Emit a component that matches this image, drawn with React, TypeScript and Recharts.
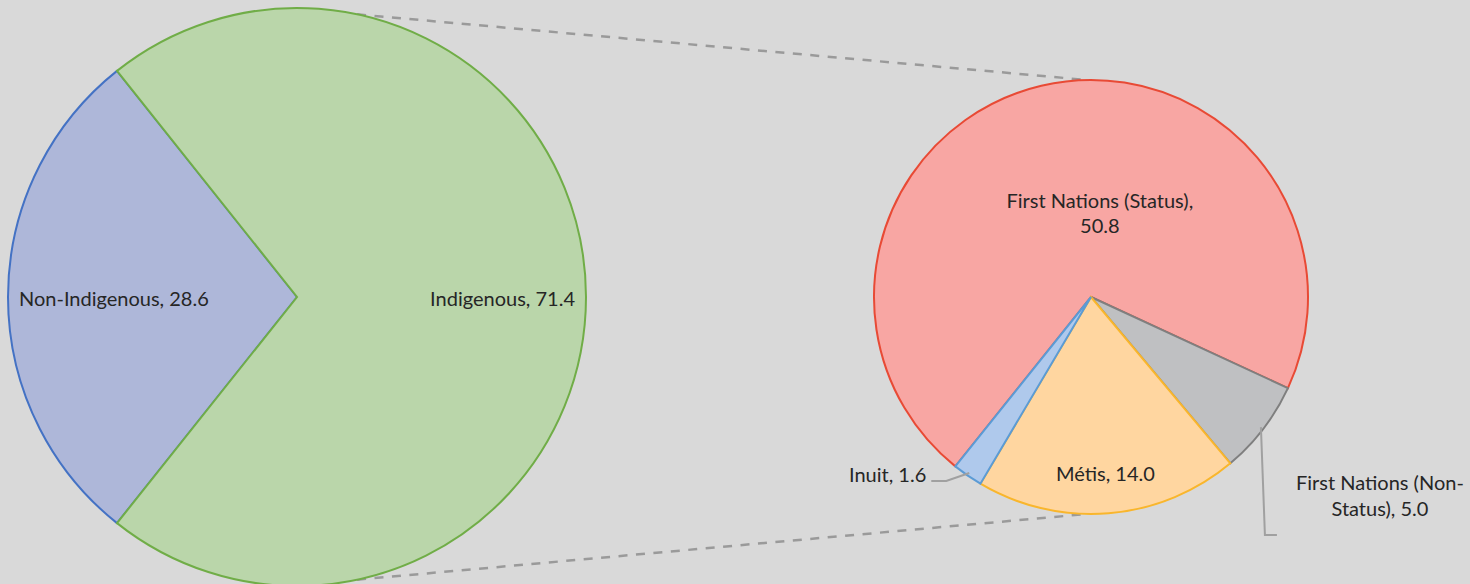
import React from 'react';
import { PieChart, Pie, Cell } from 'recharts';

// ---- data ----
const mainCategories = ['Non-Indigenous', 'Indigenous'];
const mainValues = [28.6, 71.4];
const subCategories = ['First Nations (Status)', 'First Nations (Non-Status)', 'Métis', 'Inuit'];
const subValues = [50.8, 5.0, 14.0, 1.6];

// ---- styles ----
const mainFills = ['#aeb7d9', '#bad6aa'];
const mainStrokes = ['#4472c4', '#70ad47'];
const subFills = ['#f8a6a3', '#bfc0c2', '#ffd6a0', '#afc9ec'];
const subStrokes = ['#e84a35', '#7f7f7f', '#f9b62c', '#5b9bd5'];

const W = 1470;
const H = 584;
const FONT = 'Lato, "Open Sans", sans-serif';
const FS = 20;
const TXT = '#262626';
const LEADER = '#a0a0a0';

const MAIN = { cx: 297, cy: 297, r: 289 };
const SUB = { cx: 1091, cy: 297, r: 217 };

const RAD = Math.PI / 180;
const polar = (cx: number, cy: number, r: number, a: number) => ({
  x: cx + r * Math.cos(-a * RAD),
  y: cy + r * Math.sin(-a * RAD),
});

const mainData = mainCategories.map((name, i) => ({ name, value: mainValues[i] }));
const subData = subCategories.map((name, i) => ({ name, value: subValues[i] }));

const mainTotal = mainValues.reduce((a, b) => a + b, 0);
const mainFirstSpan = (mainValues[0] / mainTotal) * 360;
const mainStart = 180 - mainFirstSpan / 2;

const renderMainLabel = (p: any) => {
  const { cx, cy, midAngle, outerRadius, name, value } = p;
  const pt = polar(cx, cy, outerRadius - 11, midAngle);
  const anchor = Math.cos(midAngle * RAD) >= 0 ? 'end' : 'start';
  return (
    <text x={pt.x} y={pt.y + 9} textAnchor={anchor} fontFamily={FONT} fontSize={FS} fill={TXT}>
      {`${name}, ${Number(value).toFixed(1)}`}
    </text>
  );
};

const splitAfter = (s: string, token: string) => {
  const i = s.indexOf(token);
  if (i < 0) return [s];
  return [s.slice(0, i + token.length).trim(), s.slice(i + token.length).trim()];
};

const renderSubLabel = (p: any) => {
  const { cx, cy, midAngle, outerRadius, name, value, index } = p;
  const full = `${name}, ${Number(value).toFixed(1)}`;
  const common = { fontFamily: FONT, fontSize: FS, fill: TXT } as any;
  if (index === 0) {
    const pt = polar(cx, cy, outerRadius * 0.39, 84);
    const lines = splitAfter(full, ', ');
    return (
      <text textAnchor="middle" {...common}>
        <tspan x={pt.x} y={pt.y - 5}>{lines[0]}</tspan>
        <tspan x={pt.x} y={pt.y + 20.5}>{lines[1]}</tspan>
      </text>
    );
  }
  if (index === 2) {
    const pt = polar(cx, cy, outerRadius * 0.82, midAngle);
    return (
      <text x={pt.x} y={pt.y + 7} textAnchor="middle" {...common}>
        {full}
      </text>
    );
  }
  if (index === 3) {
    const P = polar(cx, cy, outerRadius - 3, midAngle);
    const E = { x: P.x - 23, y: P.y + 8 };
    const End = { x: E.x - 15, y: E.y };
    return (
      <g>
        <polyline points={`${P.x},${P.y} ${E.x},${E.y} ${End.x},${End.y}`} fill="none" stroke={LEADER} strokeWidth={2} />
        <text x={End.x - 5} y={End.y + 1} textAnchor="end" {...common}>
          {full}
        </text>
      </g>
    );
  }
  // index 1: grey, label bottom-right with long leader
  const P = polar(cx, cy, outerRadius - 3, midAngle);
  const E = { x: P.x + 4, y: P.y + 108 };
  const End = { x: E.x + 12, y: E.y };
  const lines = splitAfter(full, '-');
  const tx = End.x + 103;
  return (
    <g>
      <polyline points={`${P.x},${P.y} ${E.x},${E.y} ${End.x},${End.y}`} fill="none" stroke={LEADER} strokeWidth={2} />
      <text textAnchor="middle" {...common}>
        <tspan x={tx} y={End.y - 45}>{lines[0]}</tspan>
        <tspan x={tx} y={End.y - 19}>{lines[1]}</tspan>
      </text>
    </g>
  );
};

const subStart = 231.3;

const Connectors = () => {
  const a1 = polar(MAIN.cx, MAIN.cy, MAIN.r, 78);
  const b1 = polar(SUB.cx, SUB.cy, SUB.r, 91);
  const a2 = polar(MAIN.cx, MAIN.cy, MAIN.r, -78);
  const b2 = polar(SUB.cx, SUB.cy, SUB.r, -91);
  return (
    <svg width={W} height={H} style={{ position: 'absolute', left: 0, top: 0 }}>
      <line x1={a1.x} y1={a1.y} x2={b1.x} y2={b1.y} stroke="#9a9a9a" strokeWidth={2.5} strokeDasharray="9 8.5" />
      <line x1={a2.x} y1={a2.y} x2={b2.x} y2={b2.y} stroke="#9a9a9a" strokeWidth={2.5} strokeDasharray="9 8.5" />
    </svg>
  );
};

export default function App() {
  return (
    <div style={{ position: 'absolute', left: 0, top: 0, width: W, height: H, background: '#d9d9d9', overflow: 'hidden' }}>
      <Connectors />
      <div style={{ position: 'absolute', left: 0, top: 0 }}>
        <PieChart width={W} height={H} margin={{ top: 0, right: 0, bottom: 0, left: 0 }}>
          <Pie
            data={mainData}
            dataKey="value"
            nameKey="name"
            cx={MAIN.cx}
            cy={MAIN.cy}
            outerRadius={MAIN.r}
            startAngle={mainStart}
            endAngle={mainStart + 360}
            label={renderMainLabel}
            labelLine={false}
            isAnimationActive={false}
          >
            {mainData.map((d, i) => (
              <Cell key={d.name} fill={mainFills[i]} stroke={mainStrokes[i]} strokeWidth={2} />
            ))}
          </Pie>
          <Pie
            data={subData}
            dataKey="value"
            nameKey="name"
            cx={SUB.cx}
            cy={SUB.cy}
            outerRadius={SUB.r}
            startAngle={subStart}
            endAngle={subStart - 360}
            label={renderSubLabel}
            labelLine={false}
            isAnimationActive={false}
          >
            {subData.map((d, i) => (
              <Cell key={d.name} fill={subFills[i]} stroke={subStrokes[i]} strokeWidth={2} />
            ))}
          </Pie>
        </PieChart>
      </div>
    </div>
  );
}
